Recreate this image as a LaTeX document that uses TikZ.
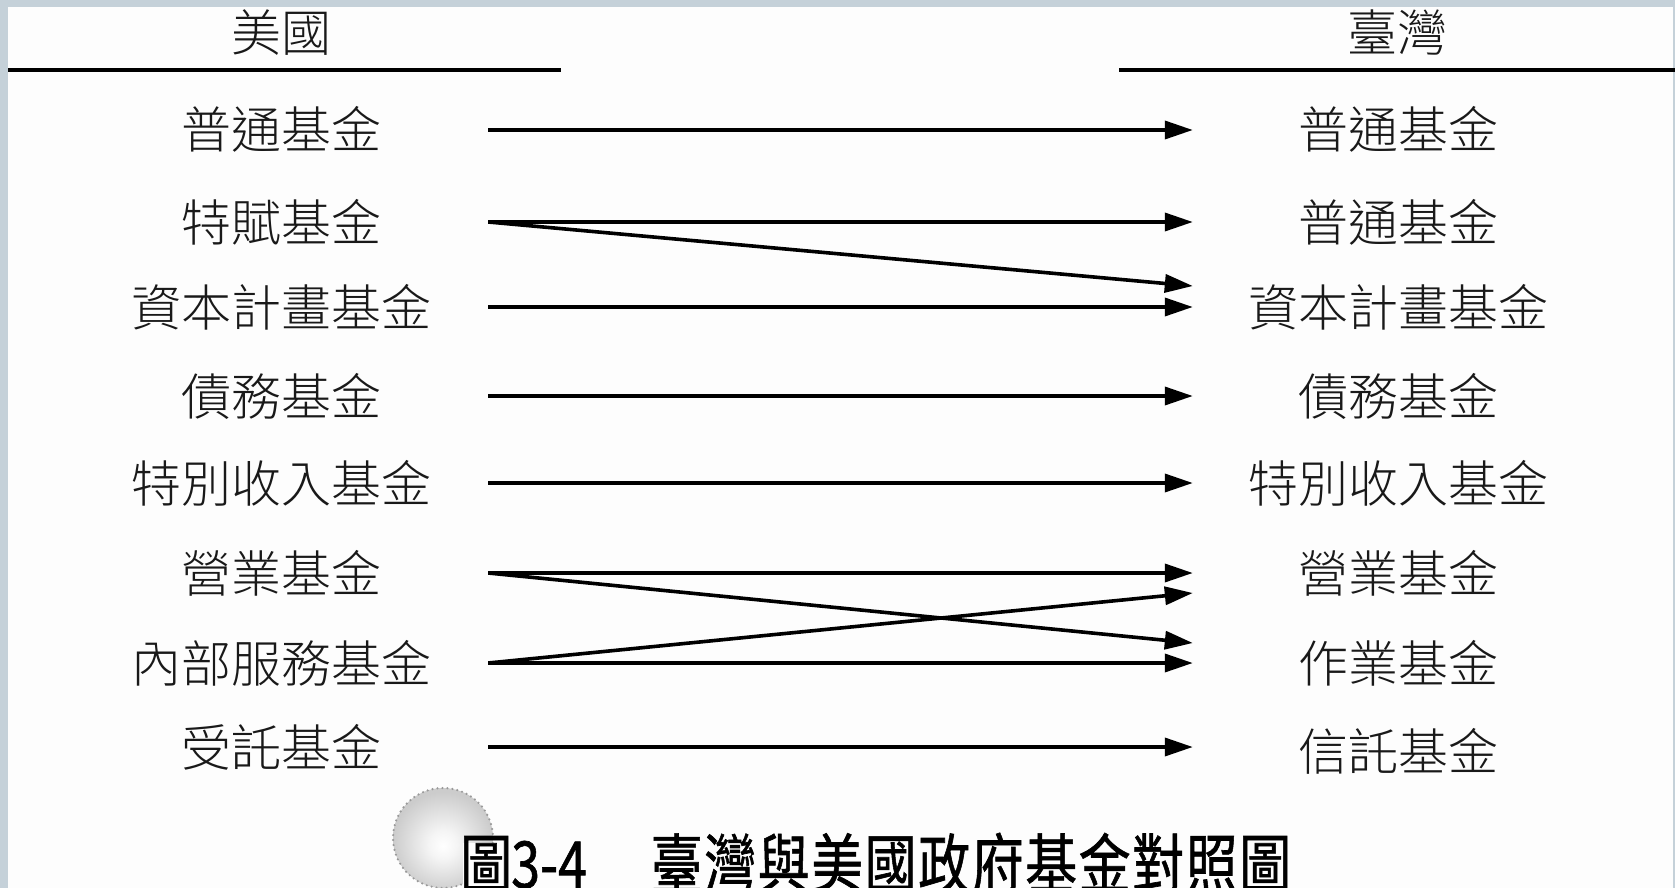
\documentclass[tikz,border=0pt]{standalone}
\usepackage{fontspec}
\usepackage{graphicx}
\usetikzlibrary{arrows.meta}
\newfontfamily\cjk{Noto Sans CJK TC}[UprightFont=* Light]
\newfontfamily\capfont{Noto Sans CJK TC}[FakeBold=1]
\definecolor{framegray}{RGB}{197,209,217}
\definecolor{pagewhite}{RGB}{253,253,253}
\pgfdeclareradialshading{capball}{\pgfpoint{0bp}{-4bp}}{color(0bp)=(white); color(7bp)=(white!96!black); color(25bp)=(black!20); color(50bp)=(black!20)}
\newcommand\capch[1]{\makebox[53.5pt]{#1}}
\begin{document}
\begin{tikzpicture}[x=1pt,y=-1pt,
  lab/.style={font=\cjk\fontsize{50}{50}\selectfont, inner sep=0pt, text height=44pt, text depth=6pt, text=black!90},
  leftlab/.style={lab, minimum width=414pt},
  rightlab/.style={lab, minimum width=410pt},
  headrule/.style={line width=4.5pt},
  conn/.style={line width=3.6pt, -{Triangle[length=28pt,width=18pt]}}
]
\useasboundingbox (0,0) rectangle (1675,888);
\clip (0,0) rectangle (1675,888);
\fill[framegray] (0,0) rectangle (1675,888);
\fill[pagewhite] (8,7) rectangle (1673,889);

% headers
\node[lab] (hUS) at (281,33) {美國};
\node[lab] (hTW) at (1397,33) {臺灣};
\draw[headrule] (8,70) -- (561,70);
\draw[headrule] (1119,70) -- (1676,70);

% left column
\node[leftlab] (l1) at (281,130) {普通基金};
\node[leftlab] (l2) at (281,222) {特賦基金};
\node[leftlab] (l3) at (281,307) {資本計畫基金};
\node[leftlab] (l4) at (281,396) {債務基金};
\node[leftlab] (l5) at (281,483) {特別收入基金};
\node[leftlab] (l6) at (281,573) {營業基金};
\node[leftlab] (l7) at (281,663) {內部服務基金};
\node[leftlab] (l8) at (281,747) {受託基金};

% right column
\node[rightlab] (r1) at (1398,130) {普通基金};
\node[rightlab] (r2) at (1398,222) {普通基金};
\node[rightlab] (r3) at (1398,307) {資本計畫基金};
\node[rightlab] (r4) at (1398,396) {債務基金};
\node[rightlab] (r5) at (1398,483) {特別收入基金};
\node[rightlab] (r6) at (1398,573) {營業基金};
\node[rightlab] (r7) at (1398,663) {作業基金};
\node[rightlab] (r8) at (1398,751) {信託基金};

% connectors
\draw[conn] (l1.east) -- (r1.west);
\draw[conn] (l2.east) -- (r2.west);
\draw[conn] (l2.east) -- ([yshift=21pt]r3.west);
\draw[conn] (l3.east) -- (r3.west);
\draw[conn] (l4.east) -- (r4.west);
\draw[conn] (l5.east) -- (r5.west);
\draw[conn] (l6.east) -- (r6.west);
\draw[conn] (l6.east) -- ([yshift=20pt]r7.west);
\draw[conn] (l7.east) -- (r7.west);
\draw[conn] (l7.east) -- ([yshift=-20pt]r6.west);
\draw[conn] (l8.east) -- ([yshift=4pt]r8.west);

% caption ornament
\shade[shading=capball] (443,838) circle[radius=50];
\draw[black!40, line width=2.4pt, dash pattern=on 0pt off 5pt, line cap=round] (443,838) circle[radius=50];
\fill[pagewhite] (463,843) rectangle (508,889);
\node[font=\capfont\fontsize{52}{52}\selectfont, inner sep=0pt, anchor=base west, text=black] (cap) at (461,888)
  {\scalebox{1}[1.25]{\makebox[50pt]{圖}3-4\hspace{63pt}\capch{臺}\capch{灣}\capch{與}\capch{美}\capch{國}\capch{政}\capch{府}\capch{基}\capch{金}\capch{對}\capch{照}\capch{圖}}};
\end{tikzpicture}
\end{document}
